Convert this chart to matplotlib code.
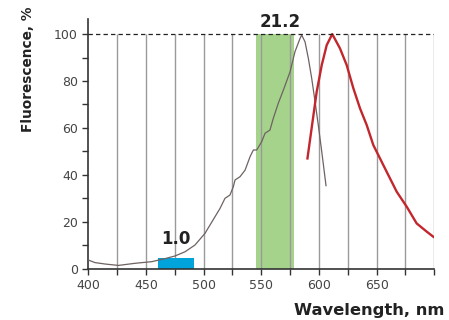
import matplotlib
matplotlib.use("Agg")
import matplotlib.pyplot as plt
import numpy as np

# Excitation spectrum (gray)
ex_wl = [400, 405.8, 414.5, 426, 440.5, 455, 466.5, 475, 483.8, 492.5, 501.2, 509.9,
         514.2, 518.5, 522.8, 525.7, 527.2, 531.5, 535.9, 540.2, 543.1, 546, 550.3,
         553.2, 557.5, 560.4, 564.7, 569.1, 574.9, 579.2, 583.6, 585, 587.9, 590.8,
         593.7, 596.6, 599.4, 602.4, 606.1]
ex_val = [3.7, 2.6, 2.0, 1.4, 2.3, 3.0, 4.3, 5.4, 7.2, 10.1, 15.1, 22.2,
          25.7, 30.0, 31.4, 34.9, 37.8, 39.2, 42.0, 47.7, 50.6, 50.6, 54.1,
          57.7, 59.1, 64.1, 70.5, 76.1, 83.9, 92.5, 98.2, 99.6, 96.7, 89.6,
          81.1, 71.2, 61.2, 49.9, 35.4]

# Emission spectrum (red)
em_wl = [590, 598, 602.4, 606.7, 611.5, 618.2, 624, 629.8, 635.6, 641.4, 647.1,
         652.9, 658.7, 667.4, 676.1, 684.7, 693.4, 699.2]
em_val = [47.0, 75.4, 86.8, 95.3, 100, 93.9, 86.8, 76.9, 68.3, 61.2, 52.7,
          47.0, 41.3, 32.8, 26.4, 19.3, 15.8, 13.6]

# Filter bands
blue_band = (460, 492, 4.5)
green_band = (545, 578, 100)
blue_label = "1.0"
green_label = "21.2"

fig = plt.figure(figsize=(4.49, 3.2), dpi=100)
ax = fig.add_axes([0.1967, 0.1603, 0.7706, 0.7794])

ax.set_xlim(400, 700)
ax.set_ylim(0, 106.3)

grid_x = np.arange(425, 701, 25)
ax.vlines(grid_x, 0, 100, color="#9a9a9a", lw=1.0, zorder=1)

ax.axvspan(green_band[0], green_band[1], ymin=0, ymax=green_band[2] / 106.3,
           color="#a6d38c", lw=0, zorder=0.5)
ax.bar((blue_band[0] + blue_band[1]) / 2, blue_band[2], width=blue_band[1] - blue_band[0],
       color="#00a3da", zorder=2)

ax.plot(ex_wl, ex_val, color="#6e6262", lw=0.9, zorder=3)
ax.plot(em_wl, em_val, color="#c1272d", lw=1.7, zorder=4)

ax.plot([400, 700], [100, 100], color="#222222", lw=0.9, ls=(0, (3.5, 2.5)), zorder=5)

ax.text(476, 9.0, blue_label, ha="center", va="bottom", fontsize=12,
        fontweight="bold", color="#222222", zorder=6)
ax.text(566, 101.3, green_label, ha="center", va="bottom", fontsize=12,
        fontweight="bold", color="#222222", zorder=6)

for s in ["top", "right"]:
    ax.spines[s].set_visible(False)
for s in ["left", "bottom"]:
    ax.spines[s].set_color("#333333")
    ax.spines[s].set_linewidth(1.2)

ax.set_xticks(np.arange(400, 701, 50))
ax.set_xticklabels(["400", "450", "500", "550", "600", "650", ""])
ax.set_xticks(np.arange(425, 701, 50), minor=True)
ax.set_yticks(np.arange(0, 101, 20))
ax.set_yticks(np.arange(10, 101, 20), minor=True)
ax.tick_params(axis="both", which="both", direction="out", color="#333333",
               labelcolor="#444444", labelsize=9)
ax.tick_params(axis="x", which="both", length=4, width=1)
ax.tick_params(axis="y", which="both", length=4, width=1)

fig.text(0.063, 0.784, "Fluorescence, %", rotation=90, ha="center", va="center",
         fontsize=9.8, fontweight="bold", color="#222222")
fig.text(0.989, 0.031, "Wavelength, nm", ha="right", va="center",
         fontsize=11.8, fontweight="bold", color="#222222")

fig.savefig("out.png", dpi=100)
